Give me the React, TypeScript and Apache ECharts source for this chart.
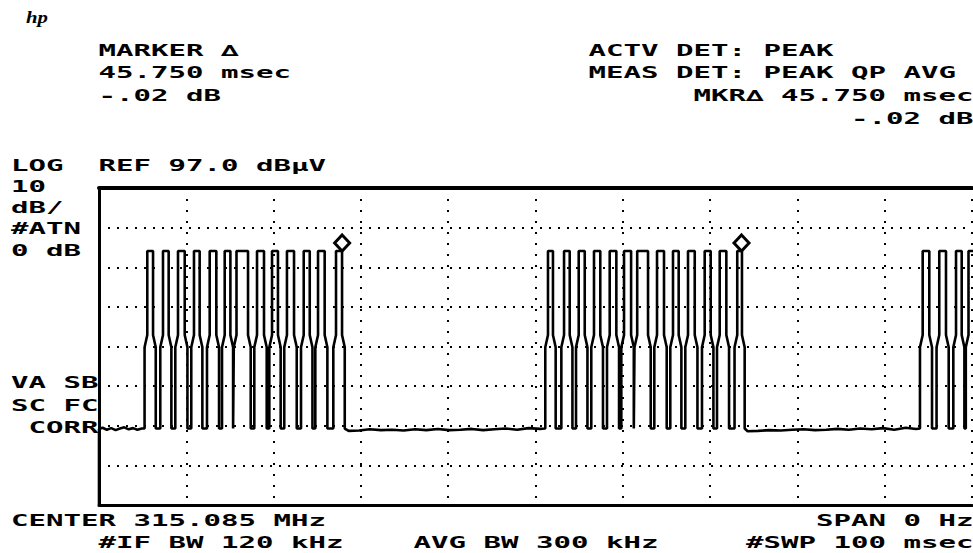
import React, { useEffect, useRef } from 'react';
import * as echarts from 'echarts';

// ---- Instrument settings ----
const REF_DBUV = 97.0;
const DB_PER_DIV = 10;
const NUM_DIVS = 8;
const SWEEP_MS = 100;
const TIME_DIV_MS = 10;

// ---- Pulse trace (ms / dBuV) ----
const PULSE_TOP_START_MS = [
  5.53, 7.33, 9.05, 10.88, 12.68, 14.4, 15.75, 18.1, 19.82, 21.53, 23.45, 25.09, 27.15,
  51.43, 53.27, 54.95, 56.7, 58.5, 60.14, 61.65, 63.92, 65.75, 67.47, 69.38, 71.1, 73.11,
  94.35, 96.25, 98.17, 99.6,
];
const PULSE_TOP_END_MS = [
  6.19, 7.98, 9.82, 11.53, 13.44, 15.05, 17.07, 18.9, 20.5, 22.34, 24.14, 25.85, 27.84,
  52.0, 53.92, 55.64, 57.42, 59.26, 60.95, 62.89, 64.72, 66.4, 68.24, 70.07, 71.86, 73.65,
  95.11, 97.02, 98.82, 100.5,
];
const TOP_DB = 81.1;
const SHOULDER_LOW_DB = 56.8;
const SHOULDER_HIGH_DB = 59.9;
const DIP_DB = 36.3;
const SHOULDER_MS = 0.31;

// noise floor samples between bursts
const NOISE_MS = [
  0, 0, 0.4, 0.9, 1.4, 1.9, 2.4, 2.9, 3.4, 3.9, 4.4, 4.9,
  28.6, 29.8, 31.0, 32.3, 33.6, 34.9, 36.2, 37.5, 38.8, 40.1, 41.4, 42.7, 44.0, 45.3, 46.6, 47.9, 49.2, 50.5,
  74.3, 75.5, 76.8, 78.1, 79.4, 80.7, 82.0, 83.3, 84.6, 85.9, 87.2, 88.5, 89.8, 91.1, 92.4, 93.6,
];
const NOISE_DB = [
  17.0, 36.2, 36.5, 36.0, 36.4, 35.9, 36.3, 36.6, 36.1, 36.4, 36.0, 36.3,
  35.7, 35.8, 36.1, 35.9, 36.0, 35.8, 36.1, 35.9, 36.2, 35.9, 36.0, 36.2, 35.9, 36.1, 36.3, 36.0, 36.4, 36.2,
  35.6, 35.7, 35.9, 35.8, 36.0, 36.1, 35.9, 36.0, 36.2, 36.0, 36.3, 36.1, 36.4, 36.0, 36.5, 36.2,
];

// delta markers
const MARKER_MS = [27.85, 73.6];

// ---- Screen annotations ----
const TEXT_LINES = ['MARKER ∆', '45.750 msec', '-.02 dB', 'ACTV DET: PEAK', 'MEAS DET: PEAK QP AVG',
  'MKR∆ 45.750 msec', '-.02 dB', 'LOG  REF 97.0 dBµV', '10', 'dB/', '#ATN', '0 dB', 'VA SB', 'SC FC',
  'CORR', 'CENTER 315.085 MHz', '#IF BW 120 kHz', 'AVG BW 300 kHz', 'SPAN 0 Hz', '#SWP 100 msec'];
const TEXT_COLS = [5, 5, 5, 33, 33, 39, 48, 0, 0, 0, 0, 0, 0, 0, 1, 0, 5, 23, 46, 42];
const TEXT_CAP_TOPS = [45, 67, 90, 45, 67, 90, 113, 160, 181, 202, 223, 245, 377, 400, 422, 515, 537, 537, 515, 537];

const BOTTOM_DB = REF_DBUV - NUM_DIVS * DB_PER_DIV;

function buildTrace(): [number, number][] {
  const pts: [number, number][] = [];
  NOISE_MS.forEach((t, i) => pts.push([t, NOISE_DB[i]]));
  PULSE_TOP_START_MS.forEach((tl, i) => {
    const tr = PULSE_TOP_END_MS[i];
    const l = tl - SHOULDER_MS;
    const r = tr + SHOULDER_MS;
    pts.push(
      [l, DIP_DB], [l, SHOULDER_LOW_DB], [tl, SHOULDER_HIGH_DB], [tl, TOP_DB],
      [tr, TOP_DB], [tr, SHOULDER_HIGH_DB], [r, SHOULDER_LOW_DB], [r, DIP_DB],
    );
  });
  const idx = pts.map((p, i) => i);
  idx.sort((a, b) => (pts[a][0] - pts[b][0]) || (a - b));
  return idx.map((i) => [pts[i][0], pts[i][1] - BOTTOM_DB]);
}

const FONT_SIZE = 16;
const CELL = 17.5;
const X0 = 11;
const SCALE_X = CELL / (0.602 * FONT_SIZE);
const CAP = 11.7;

export default function App() {
  const ref = useRef<HTMLDivElement>(null);
  useEffect(() => {
    if (!ref.current) return;
    const chart = echarts.init(ref.current, undefined, { renderer: 'svg' });
    const texts = TEXT_LINES.map((t, i) => ({
      type: 'text',
      x: X0 + TEXT_COLS[i] * CELL,
      y: TEXT_CAP_TOPS[i] + CAP / 2,
      scaleX: SCALE_X,
      silent: true,
      style: {
        text: t,
        fill: '#000',
        font: `bold ${FONT_SIZE}px "DejaVu Sans Mono"`,
        align: 'left',
        verticalAlign: 'middle',
      },
    }));
    const dotted = (dash: number[]) => ({ show: true, lineStyle: { color: '#000', width: 2, type: dash } });
    chart.setOption({
      animation: false,
      backgroundColor: '#fff',
      graphic: [
        {
          type: 'text', x: 26, y: 17, silent: true, scaleX: 1.3,
          style: { text: 'hp', fill: '#000', font: 'italic bold 16px "Liberation Serif"', align: 'left', verticalAlign: 'middle' },
        },
        ...texts,
      ],
      grid: { left: 99, top: 188, width: 873, height: 317, show: false },
      xAxis: [
        {
          type: 'value', min: 0, max: SWEEP_MS, interval: TIME_DIV_MS, position: 'bottom',
          axisLine: { show: true, lineStyle: { color: '#000', width: 3 } },
          axisTick: { show: false }, axisLabel: { show: false },
          splitLine: dotted([2, 9]),
        },
        {
          type: 'value', min: 0, max: SWEEP_MS, interval: TIME_DIV_MS, position: 'top',
          axisLine: { show: true, lineStyle: { color: '#000', width: 4 } },
          axisTick: { show: false }, axisLabel: { show: false }, splitLine: { show: false },
        },
      ],
      yAxis: {
        type: 'value', min: 0, max: NUM_DIVS * DB_PER_DIV, interval: DB_PER_DIV,
        axisLine: { show: true, lineStyle: { color: '#000', width: 3 } },
        axisTick: { show: false }, axisLabel: { show: false },
        splitLine: dotted([2, 7]),
      },
      series: [
        {
          type: 'line',
          data: buildTrace(),
          showSymbol: false,
          symbol: 'none',
          clip: true,
          lineStyle: { color: '#000', width: 2.6 },
          z: 3,
        },
        {
          type: 'scatter',
          data: MARKER_MS.map((t) => [t, TOP_DB - BOTTOM_DB]),
          symbol: 'diamond',
          symbolSize: [15, 16],
          symbolOffset: [0, -8],
          itemStyle: { color: '#fff', borderColor: '#000', borderWidth: 3, opacity: 1 },
          z: 5,
        },
      ],
    });
    return () => chart.dispose();
  }, []);
  return <div ref={ref} style={{ position: 'fixed', left: 0, top: 0, width: 973, height: 553, background: '#fff' }} />;
}
